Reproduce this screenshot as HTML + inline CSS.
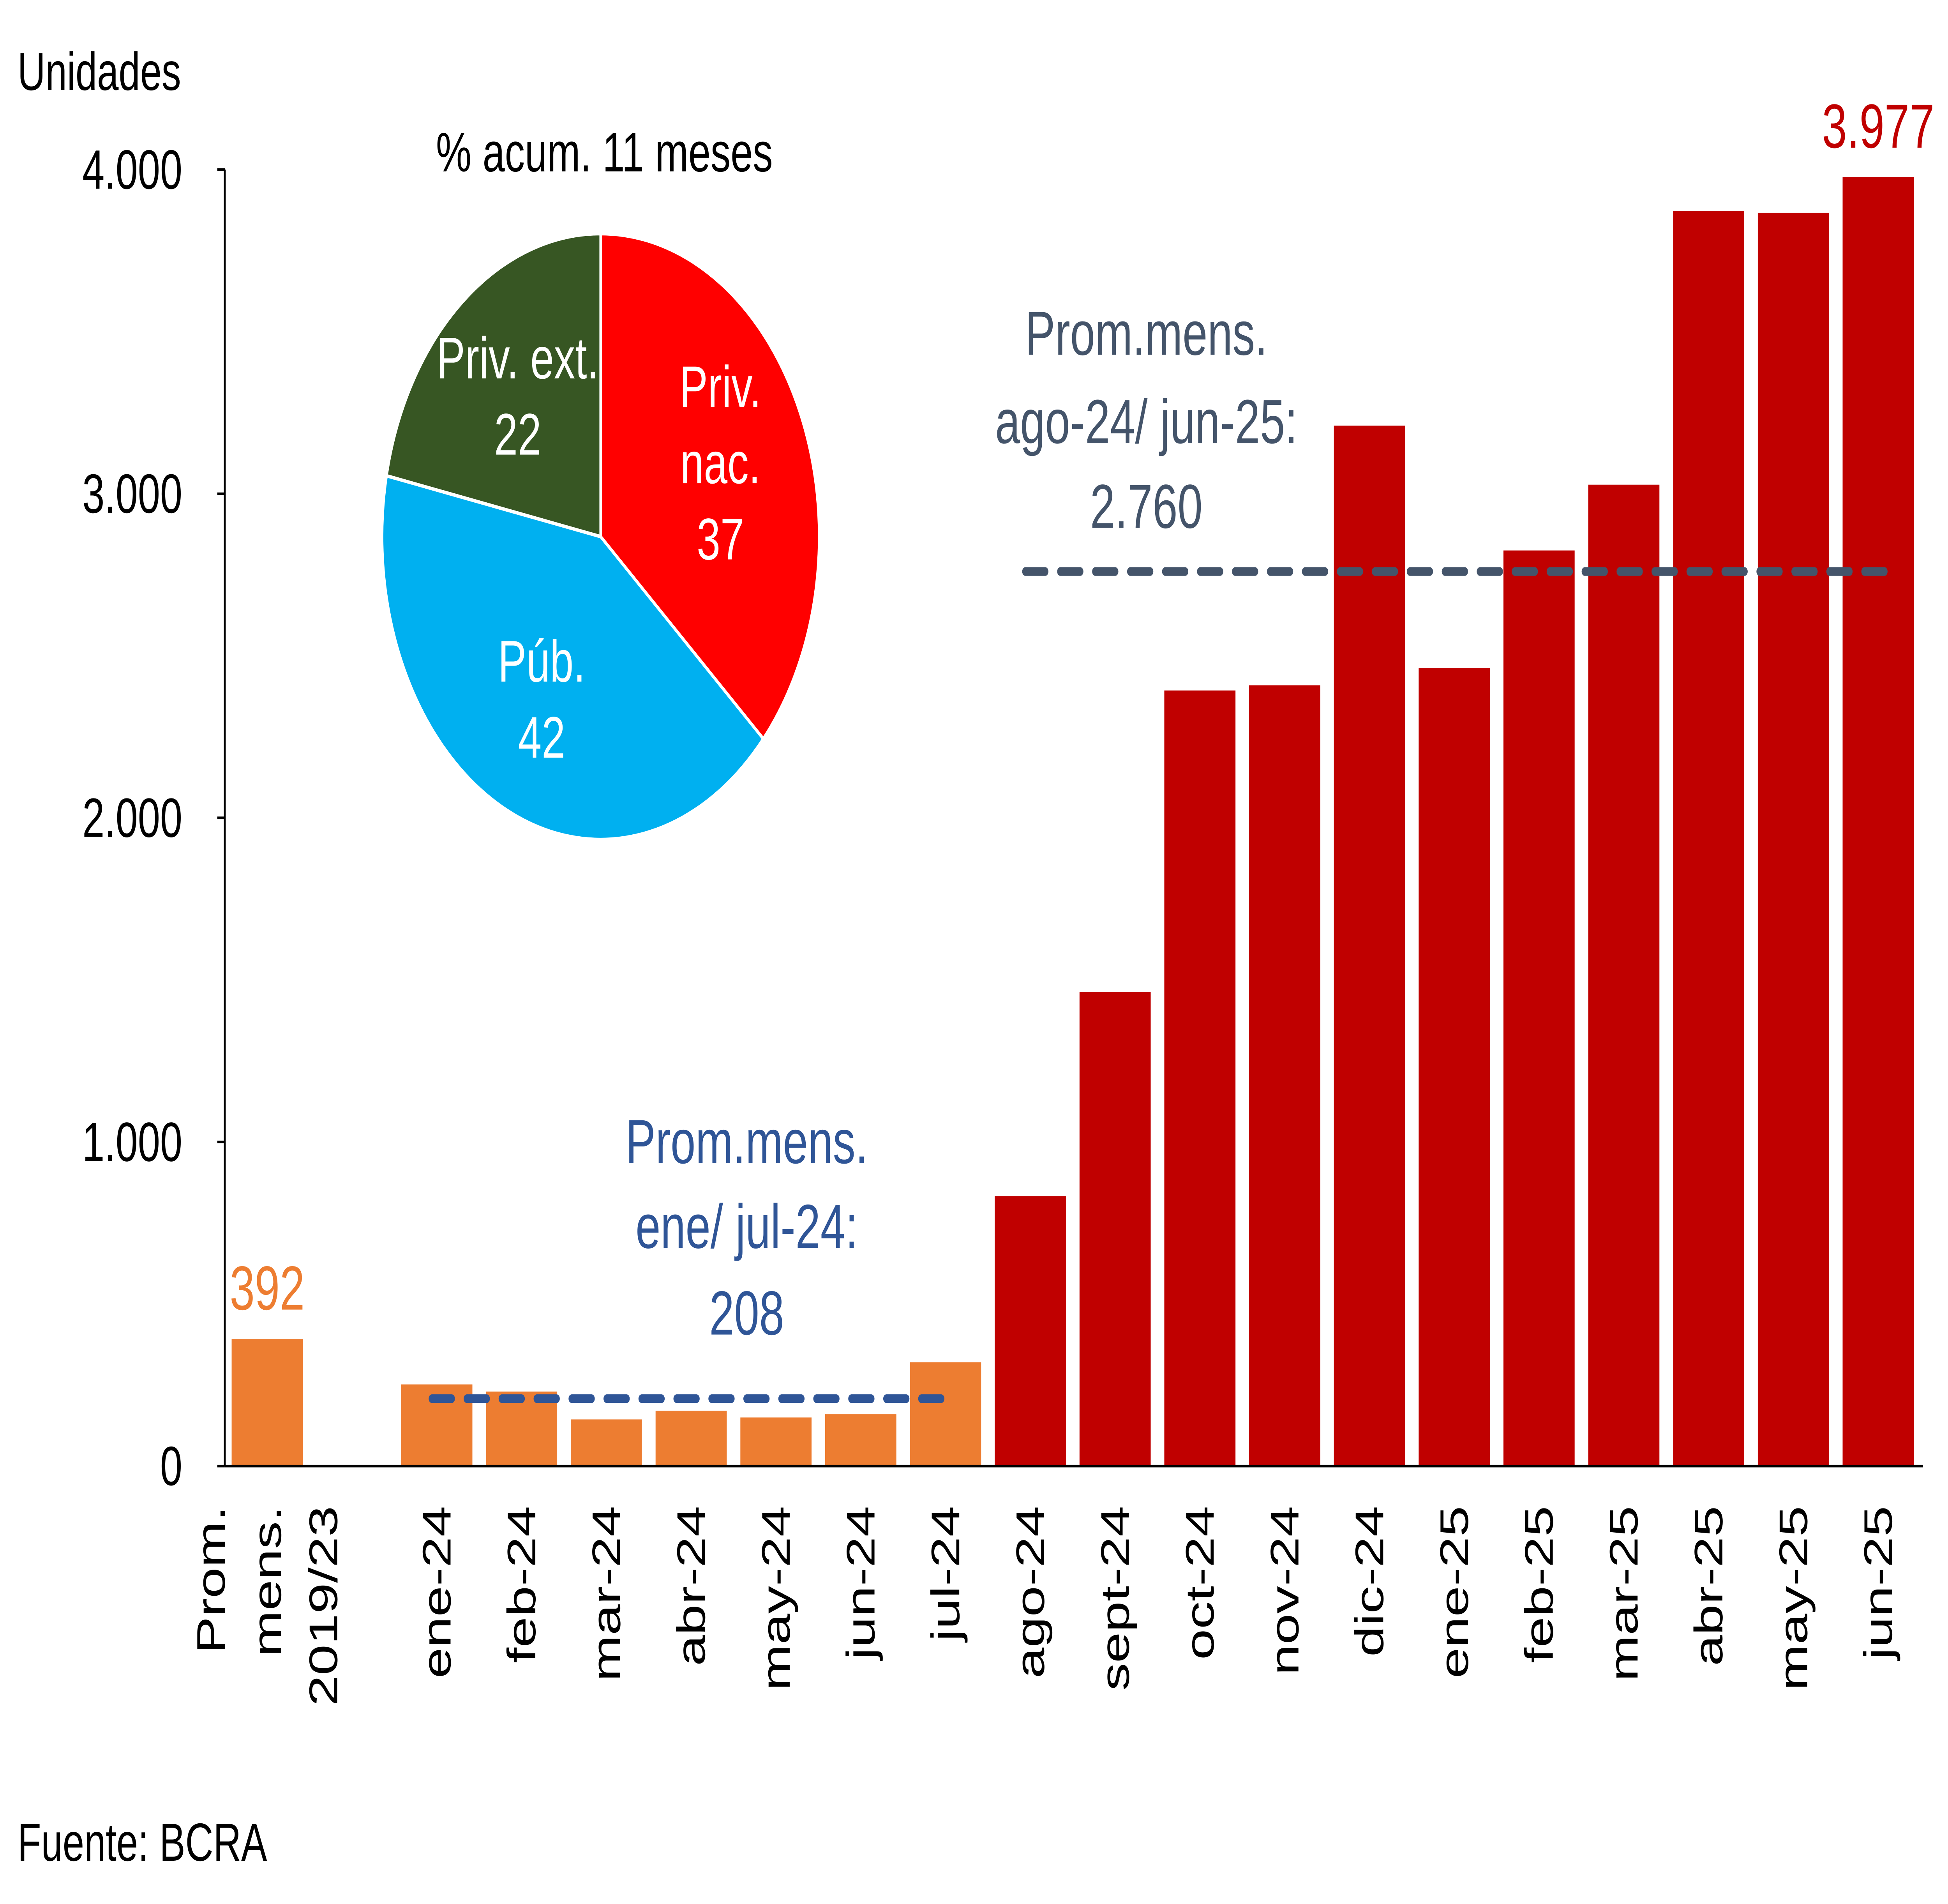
<!DOCTYPE html>
<html><head><meta charset="utf-8">
<style>
html,body{margin:0;padding:0;background:#fff;width:100%;height:100%;overflow:hidden;}
svg{display:block;position:fixed;left:0;top:0;width:100vw;height:100vh;}
text{font-family:"Liberation Sans",Arial,sans-serif;}
</style></head>
<body>
<svg id="chart" viewBox="0 0 1560 1100" preserveAspectRatio="none" xmlns="http://www.w3.org/2000/svg">
<rect width="1560" height="1100" fill="#fff"/>
<g id="bars"></g>
<g id="axes"></g>
<g id="pie"></g>
<text x="14" y="52" font-size="31">Unidades</text>
<text x="14" y="1075" font-size="31">Fuente: BCRA</text>
<text x="484" y="99" font-size="32" text-anchor="middle">% acum. 11 meses</text>
<g font-size="36" fill="#2F5597" text-anchor="middle">
<text x="598" y="672">Prom.mens.</text><text x="598" y="721">ene/ jul-24:</text><text x="598" y="771">208</text></g>
<g font-size="36" fill="#44546A" text-anchor="middle">
<text x="918" y="205">Prom.mens.</text><text x="918" y="256">ago-24/ jun-25:</text><text x="918" y="305">2.760</text></g>
</svg>
<script>
const categories=[["Prom.","mens.","2019/23"],[""],["ene-24"],["feb-24"],["mar-24"],["abr-24"],["may-24"],["jun-24"],["jul-24"],["ago-24"],["sept-24"],["oct-24"],["nov-24"],["dic-24"],["ene-25"],["feb-25"],["mar-25"],["abr-25"],["may-25"],["jun-25"]];
const values=[392,null,252,230,144,171,150,160,320,833,1463,2393,2409,3210,2462,2825,3028,3872,3867,3977];
const yTicks=[0,1000,2000,3000,4000];
const yTickLabels=["0","1.000","2.000","3.000","4.000"];
const avgValues=[208,2760];
const avgRanges=[[2,8],[9,19]];
const pieLabels=[["Priv.","nac.","37"],["Púb.","42"],["Priv. ext.","22"]];
const pieValues=[37,42,22];
const NS="http://www.w3.org/2000/svg";
const x0=180,x1=1540,y0=847,yTop=98,yMax=4000;
const slot=67.9,first=214,bw=57;
function y(v){return y0-(v/yMax)*(y0-yTop);}
function xc(i){return first+i*slot;}
function mk(tag,attrs,parent){const e=document.createElementNS(NS,tag);for(const k in attrs)e.setAttribute(k,attrs[k]);parent.appendChild(e);return e;}
const bars=document.getElementById('bars'),axes=document.getElementById('axes'),pie=document.getElementById('pie');
values.forEach((v,i)=>{
  if(v==null)return;
  const col=i<=8?"#ED7D31":"#C00000";
  const r=mk('rect',{x:xc(i)-bw/2,y:y(v),width:bw,height:y0-y(v),fill:col},bars);
  
  
});
let t=mk('text',{x:xc(0),y:y(values[0])-17,'font-size':36,fill:"#ED7D31",'text-anchor':'middle'},bars);t.textContent="392";


t=mk('text',{x:xc(19),y:y(values[19])-17,'font-size':36,fill:"#C00000",'text-anchor':'middle'},bars);t.textContent="3.977";


const avgCols=["#2F5597","#44546A"];
avgValues.forEach((v,k)=>{
  const a=avgRanges[k];
  const l=mk('line',{x1:xc(a[0])-4,x2:xc(a[1])+6,y1:y(v),y2:y(v),stroke:avgCols[k],'stroke-width':5,'stroke-dasharray':'16 12','stroke-linecap':'round'},bars);
  
  
});
let ax=mk('line',{x1:x0,x2:x0,y1:yTop,y2:y0,stroke:'#000','stroke-width':1.5},axes);


ax=mk('line',{x1:x0,x2:x1,y1:y0,y2:y0,stroke:'#000','stroke-width':1.5},axes);


yTicks.forEach((v,i)=>{
  mk('line',{x1:x0-6,x2:x0,y1:y(v),y2:y(v),stroke:'#000','stroke-width':1.5},axes);
  const tt=mk('text',{x:146,y:y(v)+11,'font-size':32,'text-anchor':'end'},axes);tt.textContent=yTickLabels[i];
  
  
});
categories.forEach((lines,i)=>{
  const n=lines.length;
  lines.forEach((s,j)=>{
    if(!s)return;
    const cx=xc(i)+(j-(n-1)/2)*45+11;
    const tt=mk('text',{x:cx,y:870,'font-size':32,'text-anchor':'end',transform:'rotate(-90 '+cx+' 870)'},axes);
    tt.textContent=s;
    
    
  });
});
const pcx=481,pcy=310,pr=175;
const pieCols=["#FF0000","#00B0F0","#375623"];
const tot=pieValues.reduce((a,b)=>a+b,0);
let ang=-Math.PI/2;
pieValues.forEach((v,i)=>{
  const a2=ang+v/tot*2*Math.PI;
  const large=(a2-ang)>Math.PI?1:0;
  const p=mk('path',{d:`M${pcx},${pcy} L${pcx+pr*Math.cos(ang)},${pcy+pr*Math.sin(ang)} A${pr},${pr} 0 ${large} 1 ${pcx+pr*Math.cos(a2)},${pcy+pr*Math.sin(a2)} Z`,fill:pieCols[i],stroke:'#fff','stroke-width':2},pie);
  
  
  const mid=(ang+a2)/2,rr=pr*0.6;
  const lx=pcx+rr*Math.cos(mid),ly=pcy+rr*Math.sin(mid);
  const L=pieLabels[i];
  L.forEach((s,j)=>{
    const tt=mk('text',{x:lx,y:ly+(j-(L.length-1)/2)*44+12,'font-size':34,fill:'#fff','text-anchor':'middle'},pie);
    tt.textContent=s;
    
    
  });
  ang=a2;
});
</script>
</body></html>
